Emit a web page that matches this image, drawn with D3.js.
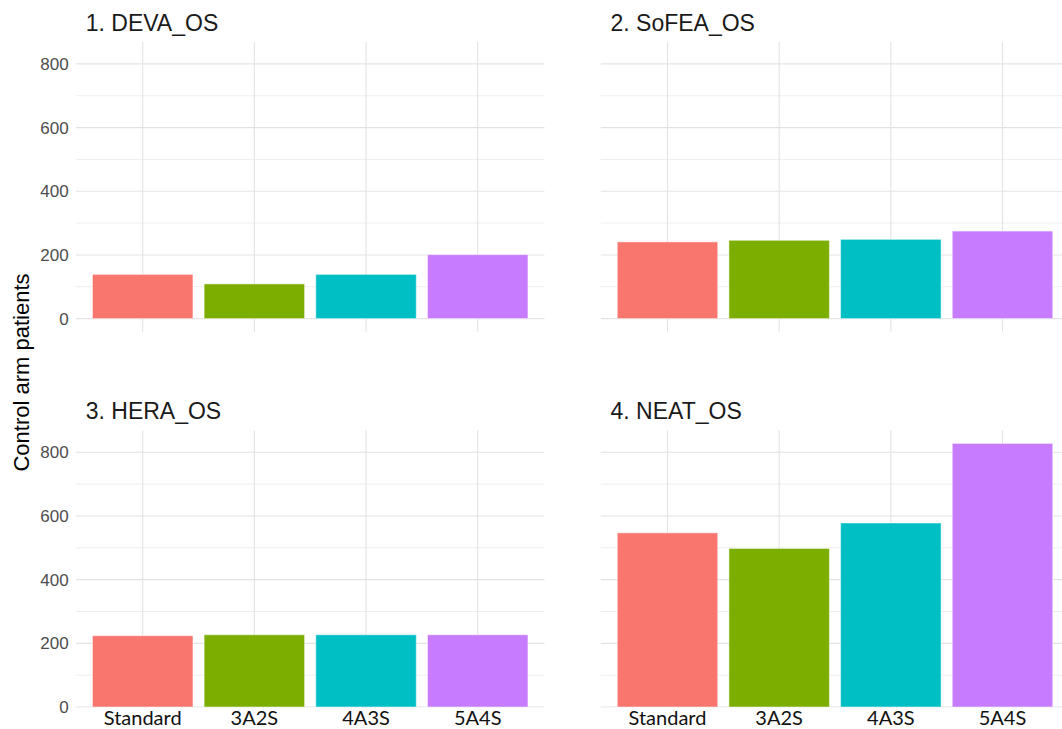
<!DOCTYPE html>
<html>
<head>
<meta charset="utf-8">
<script src="https://cdn.jsdelivr.net/npm/d3@7"></script>
<style>
  body { margin: 0; background: #fff; }
  svg { display: block; }
</style>
</head>
<body>
<div id="chart"></div>
<script>
// ---------------- data ----------------
const categories = ['Standard', '3A2S', '4A3S', '5A4S'];
const panelTitles = ['1. DEVA_OS', '2. SoFEA_OS', '3. HERA_OS', '4. NEAT_OS'];
const devaValues  = [139, 109, 139, 201];
const sofeaValues = [241, 246, 249, 275];
const heraValues  = [224, 227, 227, 227];
const neatValues  = [547, 498, 578, 828];
const yMajorTicks = [0, 200, 400, 600, 800];
const yMinorTicks = [100, 300, 500, 700];
const yLabel = 'Control arm patients';

const colors = ['#F8766D', '#7CAE00', '#00BFC4', '#C77CFF'];

const totalWidth = 1062, totalHeight = 729;

const panels = [
  { title: panelTitles[0], values: devaValues,  x0: 75.7,  y0: 41.8,  yLabels: true,  xLabels: false },
  { title: panelTitles[1], values: sofeaValues, x0: 600.5, y0: 41.8,  yLabels: false, xLabels: false },
  { title: panelTitles[2], values: heraValues,  x0: 75.7,  y0: 430.2, yLabels: true,  xLabels: true },
  { title: panelTitles[3], values: neatValues,  x0: 600.5, y0: 430.2, yLabels: false, xLabels: true }
];
const panelWidth = 469, panelHeight = 290;

// shared y domain with ggplot-like 5% expansion
const allValues = devaValues.concat(sofeaValues, heraValues, neatValues);
const yMax = d3.max(allValues);
const yExpand = 0.05 * yMax;

const svg = d3.select('#chart').append('svg')
  .attr('width', totalWidth)
  .attr('height', totalHeight);

svg.append('defs').selectAll('clipPath')
  .data(panels)
  .enter()
  .append('clipPath')
  .attr('id', (d, i) => 'clip' + i)
  .append('rect')
  .attr('x', 0)
  .attr('y', 0)
  .attr('width', panelWidth)
  .attr('height', d => d.xLabels ? 277.5 : panelHeight);

panels.forEach(function(p, i){
  const g = svg.append('g')
    .attr('transform', 'translate(' + p.x0 + ',' + p.y0 + ')');

  const xScale = d3.scaleBand()
    .domain(categories)
    .range([0, panelWidth])
    .paddingInner(0.1)
    .paddingOuter(0.15);

  const yScale = d3.scaleLinear()
    .domain([-yExpand, yMax + yExpand])
    .range([panelHeight, 0]);

  const grid = g.append('g').attr('clip-path', 'url(#clip' + i + ')');

  // minor gridlines
  grid.selectAll('line.minor')
    .data(yMinorTicks)
    .enter()
    .append('line')
    .attr('class', 'minor')
    .attr('x1', 0).attr('x2', panelWidth)
    .attr('y1', d => yScale(d)).attr('y2', d => yScale(d))
    .style('stroke', '#eeeeee')
    .style('stroke-width', 1);

  // major gridlines
  grid.selectAll('line.major')
    .data(yMajorTicks)
    .enter()
    .append('line')
    .attr('class', 'major')
    .attr('x1', 0).attr('x2', panelWidth)
    .attr('y1', d => yScale(d)).attr('y2', d => yScale(d))
    .style('stroke', '#e3e3e3')
    .style('stroke-width', 1.1);

  grid.selectAll('line.vgrid')
    .data(categories)
    .enter()
    .append('line')
    .attr('class', 'vgrid')
    .attr('x1', d => xScale(d) + xScale.bandwidth() / 2)
    .attr('x2', d => xScale(d) + xScale.bandwidth() / 2)
    .attr('y1', 0).attr('y2', panelHeight)
    .style('stroke', '#e3e3e3')
    .style('stroke-width', 1.1);

  // bars
  g.append('g').selectAll('rect')
    .data(p.values)
    .enter()
    .append('rect')
    .attr('x', (d, j) => xScale(categories[j]))
    .attr('width', xScale.bandwidth())
    .attr('y', d => yScale(d))
    .attr('height', d => yScale(0) - yScale(d))
    .attr('fill', (d, j) => colors[j])
    .style('stroke', 'rgba(255,255,255,0.5)')
    .style('stroke-width', 1);

  // y axis labels
  if(p.yLabels){
    const yAxis = d3.axisLeft(yScale).tickValues(yMajorTicks).tickSize(0).tickPadding(7);
    const yAxisView = g.append('g').call(yAxis);
    yAxisView.select('.domain').remove();
    yAxisView.selectAll('text')
      .style('font-family', 'Liberation Sans, Arial, sans-serif')
      .style('font-size', '17px')
      .style('fill', '#4d4d4d');
  }

  // x axis labels
  if(p.xLabels){
    const xAxis = d3.axisBottom(xScale).tickSize(0).tickPadding(0);
    const xAxisView = g.append('g')
      .attr('transform', 'translate(0,' + 280 + ')')
      .call(xAxis);
    xAxisView.select('.domain').remove();
    xAxisView.selectAll('text')
      .attr('dy', 0)
      .attr('y', 14.8)
      .style('font-family', 'Lato, sans-serif')
      .style('font-size', '20px')
      .style('fill', '#111');
  }

  // panel title
  g.append('text')
    .attr('x', 10)
    .attr('y', -11.2)
    .style('font-family', 'Liberation Sans, Arial, sans-serif')
    .style('font-size', '23px')
    .style('fill', '#1a1a1a')
    .text(p.title);
});

// shared y label
svg.append('text')
  .attr('transform', 'translate(29,372.5) rotate(-90)')
  .attr('text-anchor', 'middle')
  .style('font-family', 'Liberation Sans, Arial, sans-serif')
  .style('font-size', '22px')
  .style('fill', '#000')
  .text(yLabel);
</script>
</body>
</html>
